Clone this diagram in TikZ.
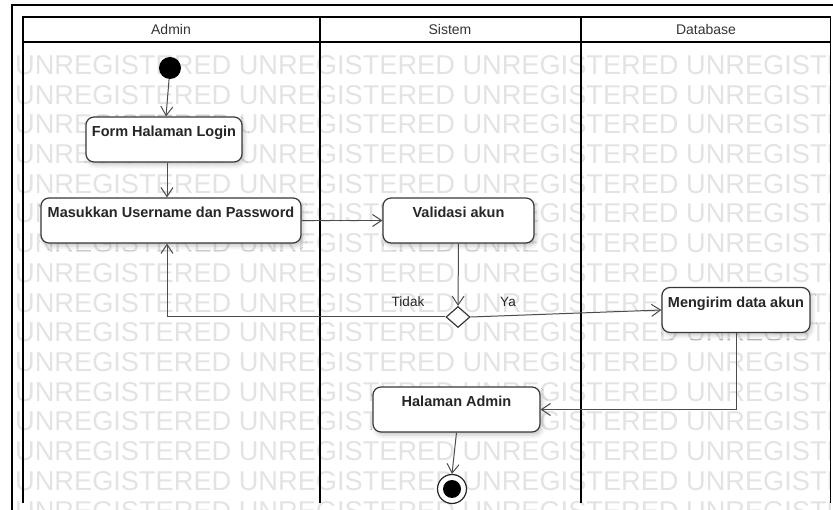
\documentclass[tikz,border=0pt]{standalone}
\usepackage{fontspec}
\setmainfont{Liberation Sans}
\usetikzlibrary{arrows.meta,shapes.geometric,shadows.blur,calc}

\begin{document}
\begin{tikzpicture}[x=1pt,y=-1pt,
  lane/.style={draw=black, line width=1.6pt},
  hdr/.style={inner sep=0pt, font=\fontsize{14}{16}\selectfont, text=black!80},
  act/.style={draw=black!78, line width=1.2pt, fill=white, rounded corners=8pt,
    minimum width=#1, inner xsep=0pt, inner ysep=6pt,
    text height=14pt, text depth=19pt, text=black!85,
    font=\bfseries\fontsize{14.5}{16}\selectfont,
    blur shadow={shadow xshift=2pt, shadow yshift=-3pt, shadow blur radius=4pt, shadow opacity=22}},
  flow/.style={draw=black!70, line width=1pt, -{Straight Barb[length=9pt,width=12pt]}},
  lbl/.style={inner sep=0pt, font=\fontsize{13.5}{15}\selectfont, text=black!85},
  wmark/.style={inner sep=0pt, anchor=base west, text=black!11,
    font=\fontsize{27.2}{30}\selectfont}
]
\useasboundingbox (0,0) rectangle (833,510);

% watermark rows
\begin{scope}
  \clip (12,42) rectangle (830.5,510);
  \foreach \k in {0,...,15} {
    \node[wmark] (wm\k) at (15,{74.5+29.7*\k})
      {UNREGISTERED UNREGISTERED UNREGISTERED UNREGISTERED};
  }
\end{scope}

% frames and swimlanes
\draw[lane] (12,510) -- (12,5) -- (833,5);
\draw[lane] (23,503) -- (23,17) -- (830.5,17) -- (830.5,503);
\draw[lane] (23,42) -- (830.5,42);
\draw[lane] (320,17) -- (320,503);
\draw[lane] (581,17) -- (581,503);

\node[hdr] (hAdmin) at (171,30) {Admin};
\node[hdr] (hSistem) at (450,30) {Sistem};
\node[hdr] (hDb) at (706,30) {Database};

% activities
\node[circle, fill=black, minimum size=22pt, inner sep=0pt] (start) at (170,68) {};
\node[act=156pt] (form) at (164,139.5) {Form Halaman Login};
\node[act=260pt] (mas) at (171,220.5) {Masukkan Username dan Password};
\node[act=151pt] (val) at (458.5,220.5) {Validasi akun};
\node[diamond, draw=black!78, line width=1.2pt, fill=white, minimum width=24pt,
  minimum height=21pt, inner sep=0pt] (dec) at (458,317) {};
\node[act=148pt] (meng) at (736,310) {Mengirim data akun};
\node[act=167pt] (hal) at (456.5,409.5) {Halaman Admin};
\node[circle, draw=black!85, line width=1.2pt, fill=white, minimum size=29pt,
  inner sep=0pt] (end) at (452,489) {};
\node[circle, fill=black, minimum size=18pt, inner sep=0pt] (endc) at (end) {};

% guard labels
\node[lbl, anchor=base] (tidak) at (408,307) {Tidak};
\node[lbl, anchor=base] (ya) at (508,307) {Ya};

% control flow
\coordinate (formout) at ($(form.south)+(3,0)$);
\coordinate (masin) at ($(mas.north)+(-4,0)$);
\coordinate (masback) at ($(mas.south)+(-4,0)$);
\draw[flow] (start) -- ($(form.north)+(2,0)$);
\draw[flow] (formout) -- (masin);
\draw[flow] (mas.east) -- (val.west);
\draw[flow] (val.south) -- (dec.north);
\draw[flow] (dec.west) -- (dec.west -| masback) -- (masback);
\draw[flow] (dec.east) -- (meng.west);
\draw[flow] (meng.south) |- (hal.east);
\draw[flow] (hal.south) -- (end.north);
\end{tikzpicture}
\end{document}
